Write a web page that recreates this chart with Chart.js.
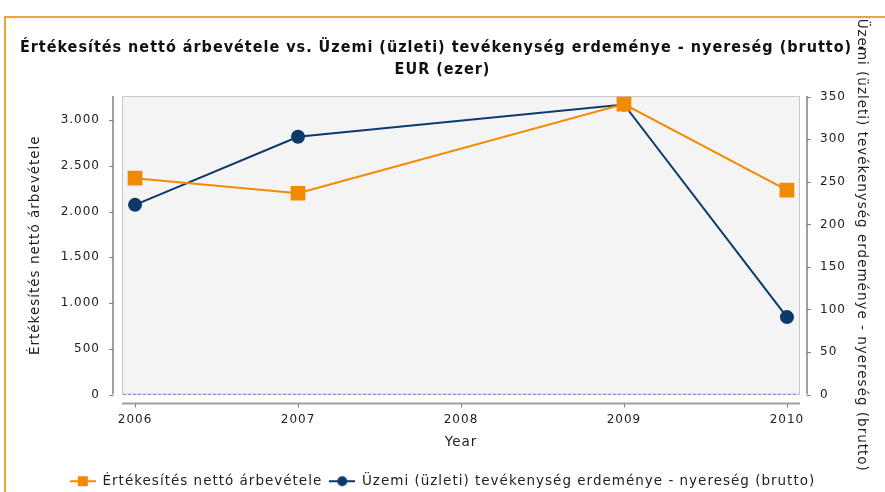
<!DOCTYPE html>
<html>
<head>
<meta charset="utf-8">
<script src="https://cdn.jsdelivr.net/npm/chart.js@4.4.0/dist/chart.umd.min.js"></script>
<style>
  html, body { margin: 0; padding: 0; background: #fff; }
  #chart { display: block; }
</style>
</head>
<body>
<canvas id="chart" width="885" height="492"></canvas>
<script>
// =================== DATA ===================
const years = [2006, 2007, 2009, 2010];
const yearTicks = [2006, 2007, 2008, 2009, 2010];
const revenue = [2365, 2200, 3175, 2234];   // left axis
const profit = [223, 303, 341, 91];         // right axis
const revenueTicks = [0, 500, 1000, 1500, 2000, 2500, 3000];
const profitTicks = [0, 50, 100, 150, 200, 250, 300, 350];

const revenueLabel = "Értékesítés nettó árbevétele";
const profitLabel = "Üzemi (üzleti) tevékenység erdeménye - nyereség (brutto)";
const titleLines = [
  "Értékesítés nettó árbevétele vs. Üzemi (üzleti) tevékenység erdeménye - nyereség (brutto) -",
  "EUR (ezer)",
];

const ORANGE = "#f28a00";
const NAVY = "#0b3a6b";
const FONT = "'DejaVu Sans', sans-serif";

// thousands separator with a dot (3.000)
const fmt = (v) => String(v).replace(/\B(?=(\d{3})+(?!\d))/g, ".");

// =================== LEGEND ICONS ===================
function legendIcon(color, shape) {
  const c = document.createElement("canvas");
  c.width = 26;
  c.height = 12;
  const g = c.getContext("2d");
  g.strokeStyle = color;
  g.lineWidth = 2;
  g.beginPath();
  g.moveTo(0, 6);
  g.lineTo(26, 6);
  g.stroke();
  g.fillStyle = color;
  if (shape === "rect") {
    g.fillRect(8, 1, 10, 10);
  } else {
    g.beginPath();
    g.arc(13, 6, 5, 0, Math.PI * 2);
    g.fill();
  }
  return c;
}
const icons = [legendIcon(ORANGE, "rect"), legendIcon(NAVY, "circle")];

// wide-set lettering like the original renderer
const spacing = {
  id: "spacing",
  beforeLayout(chart) { chart.ctx.letterSpacing = "1px"; },
  beforeDraw(chart) { chart.ctx.letterSpacing = "1px"; },
};

// =================== PLOT FRAME / OFFSET AXES ===================
const frame = {
  id: "frame",
  beforeDraw(chart) {
    const { ctx, chartArea: a, scales } = chart;
    ctx.save();

    // orange outer border
    ctx.strokeStyle = "#f0a33a";
    ctx.lineWidth = 2;
    ctx.beginPath();
    ctx.moveTo(5, 492);
    ctx.lineTo(5, 17);
    ctx.lineTo(885, 17);
    ctx.stroke();

    // plot background
    ctx.fillStyle = "#f4f4f4";
    ctx.fillRect(a.left, a.top, a.right - a.left, a.bottom - a.top);
    ctx.strokeStyle = "#c8c8c8";
    ctx.lineWidth = 1;
    ctx.strokeRect(a.left + 0.5, a.top + 0.5, a.right - a.left - 1, a.bottom - a.top - 1);

    // axis lines, set apart from the plot
    ctx.strokeStyle = "#a0a0a0";
    ctx.lineWidth = 2;
    ctx.beginPath();
    ctx.moveTo(a.left - 9, a.top);
    ctx.lineTo(a.left - 9, a.bottom);
    ctx.moveTo(a.right + 7, a.top);
    ctx.lineTo(a.right + 7, a.bottom);
    ctx.moveTo(a.left, a.bottom + 9);
    ctx.lineTo(a.right, a.bottom + 9);
    ctx.stroke();

    // tick marks
    ctx.strokeStyle = "#808080";
    ctx.lineWidth = 1;
    ctx.beginPath();
    scales.y.ticks.forEach((t) => {
      const py = Math.round(scales.y.getPixelForValue(t.value)) + 0.5;
      ctx.moveTo(a.left - 13, py);
      ctx.lineTo(a.left - 9, py);
    });
    scales.y1.ticks.forEach((t) => {
      const py = Math.round(scales.y1.getPixelForValue(t.value)) + 0.5;
      ctx.moveTo(a.right + 7, py);
      ctx.lineTo(a.right + 11, py);
    });
    scales.x.ticks.forEach((t) => {
      const px = Math.round(scales.x.getPixelForValue(t.value)) + 0.5;
      ctx.moveTo(px, a.bottom + 9);
      ctx.lineTo(px, a.bottom + 13);
    });
    ctx.stroke();

    // zero marker line
    const zy = Math.round(scales.y.getPixelForValue(0)) - 0.5;
    ctx.strokeStyle = "#8c8cd0";
    ctx.setLineDash([3, 2]);
    ctx.beginPath();
    ctx.moveTo(a.left + 1, zy);
    ctx.lineTo(a.right - 1, zy);
    ctx.stroke();

    ctx.restore();
  },
};

// =================== CHART ===================
const ctx = document.getElementById("chart");

new Chart(ctx, {
  type: "line",
  data: {
    datasets: [
      {
        label: revenueLabel,
        data: years.map((x, i) => ({ x, y: revenue[i] })),
        yAxisID: "y",
        borderColor: ORANGE,
        backgroundColor: ORANGE,
        borderWidth: 2,
        pointStyle: "rect",
        pointRadius: 9,
        pointHoverRadius: 9,
        tension: 0,
      },
      {
        label: profitLabel,
        data: years.map((x, i) => ({ x, y: profit[i] })),
        yAxisID: "y1",
        borderColor: NAVY,
        backgroundColor: NAVY,
        borderWidth: 2,
        pointStyle: "circle",
        pointRadius: 6,
        pointHoverRadius: 6,
        tension: 0,
      },
    ],
  },
  options: {
    responsive: false,
    animation: false,
    events: [],
    clip: false,
    layout: { padding: { top: 0, left: 0, right: 0, bottom: -6 } },
    scales: {
      x: {
        type: "linear",
        min: 2005.92,
        max: 2010.08,
        grid: { display: false, drawTicks: false },
        border: { display: false },
        afterBuildTicks: (s) => { s.ticks = yearTicks.map((v) => ({ value: v })); },
        afterFit: (s) => { s.height = 73; },
        ticks: {
          callback: (v) => String(v),
          maxRotation: 0,
          padding: 18,
          color: "#222",
          font: { family: FONT, size: 12 },
        },
        title: {
          display: true,
          text: "Year",
          color: "#222",
          padding: { top: 4, bottom: 17 },
          font: { family: FONT, size: 13.5 },
        },
      },
      y: {
        position: "left",
        min: 0,
        max: 3263,
        grid: { display: false, drawTicks: false },
        border: { display: false },
        afterBuildTicks: (s) => { s.ticks = revenueTicks.map((v) => ({ value: v })); },
        afterFit: (s) => { s.width = 122; },
        ticks: {
          callback: (v) => fmt(v),
          padding: 22,
          color: "#222",
          font: { family: FONT, size: 12 },
        },
        title: {
          display: true,
          text: revenueLabel,
          color: "#222",
          padding: { top: 27, bottom: 0 },
          font: { family: FONT, size: 13.5 },
        },
      },
      y1: {
        position: "right",
        min: 0,
        max: 351,
        grid: { display: false, drawTicks: false },
        border: { display: false },
        afterBuildTicks: (s) => { s.ticks = profitTicks.map((v) => ({ value: v })); },
        afterFit: (s) => { s.width = 85; },
        ticks: {
          callback: (v) => String(v),
          padding: 20,
          color: "#222",
          font: { family: FONT, size: 12 },
        },
        title: {
          display: true,
          text: profitLabel,
          color: "#222",
          padding: { top: 15, bottom: 0 },
          font: { family: FONT, size: 13.5 },
        },
      },
    },
    plugins: {
      tooltip: { enabled: false },
      title: {
        display: true,
        text: titleLines,
        color: "#111",
        padding: { top: 37, bottom: 15 },
        font: {
          family: "'DejaVu Sans Condensed', 'DejaVu Sans', sans-serif",
          weight: "bold",
          size: 16,
          lineHeight: "22px",
        },
      },
      legend: {
        position: "bottom",
        labels: {
          usePointStyle: true,
          pointStyleWidth: 26,
          boxHeight: 12,
          padding: 7,
          color: "#222",
          font: { family: FONT, size: 13.5 },
          generateLabels: (chart) =>
            chart.data.datasets.map((d, i) => ({
              text: d.label,
              pointStyle: icons[i],
              fillStyle: d.borderColor,
              strokeStyle: d.borderColor,
              lineWidth: 0,
              hidden: false,
              datasetIndex: i,
              fontColor: "#222",
            })),
        },
      },
    },
  },
  plugins: [spacing, frame],
});
</script>
</body>
</html>
